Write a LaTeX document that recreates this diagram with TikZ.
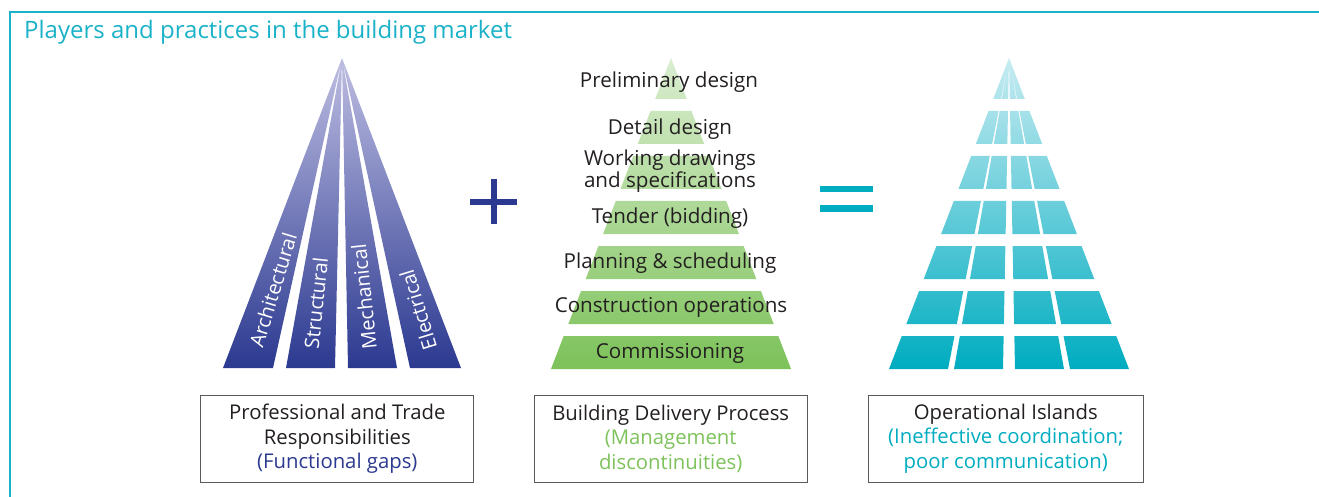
\documentclass[tikz,border=0pt]{standalone}
\usepackage{fontspec}
\setmainfont{Open Sans}
\definecolor{navy}{RGB}{43,57,144}
\definecolor{lavender}{RGB}{190,190,226}
\definecolor{leaf}{RGB}{125,194,90}
\definecolor{paleleaf}{RGB}{218,237,208}
\definecolor{isle}{RGB}{0,172,192}
\definecolor{paleisle}{RGB}{200,236,242}
\definecolor{rim}{RGB}{26,178,200}
\definecolor{ink}{RGB}{35,31,32}
\tikzset{
  legend/.style={draw=gray!70!black,line width=1.3pt,minimum width=273pt,minimum height=87pt,
    align=center,inner sep=0pt,text=ink,font=\fontsize{20.3}{24.7}\selectfont},
  stage/.style={text=ink,font=\fontsize{20.6}{21.7}\selectfont,align=center,inner sep=0pt},
  trade/.style={text=white,font=\fontsize{20}{20}\selectfont,inner sep=0pt}
}
\begin{document}
\begin{tikzpicture}[x=1pt,y=-1pt]
  \useasboundingbox (0,0) rectangle (1319,497);
  % frame and title
  \draw[rim,line width=2.2pt] (10,497)--(10,12)--(1319,12);
  \node[anchor=base west,text=rim,font=\fontsize{24}{26}\selectfont,inner sep=0pt] (title) at (24,39) {Players and practices in the building market};

  % professional fan
  \shade[top color=lavender,bottom color=navy]
    \foreach \l/\r in {-119/-69,-56/-7,6/55,68/119} {(342,58)--({342+\l},368)--({342+\r},368)--cycle};
  \node[trade,rotate=73] (arch) at (273,290) {Architectural};
  \node[trade,rotate=84] (struct) at (316,303) {Structural};
  \node[trade,rotate=96] (mech) at (364,297) {Mechanical};
  \node[trade,rotate=107] (elec) at (418,310) {Electrical};

  % plus
  \draw[navy,line width=6pt] (470,202)--(517,202) (493.5,179)--(493.5,224);

  % delivery pyramid
  \shade[top color=paleleaf,bottom color=leaf]
    \foreach \t/\b in {58/99,111/144,156/189,201/234,246/279,291/324,336/369}
      {({671-.386*(\t-58)},\t)--({671+.386*(\t-58)},\t)--({671+.386*(\b-58)},\b)--({671-.386*(\b-58)},\b)--cycle};
  \node[stage] (prelim) at (669,82) {Preliminary design};
  \node[stage] (detail) at (670,129) {Detail design};
  \node[stage] (working) at (670,171) {Working drawings\\ and specifications};
  \node[stage] (tender) at (670,218) {Tender (bidding)};
  \node[stage] (planning) at (670,263) {Planning \& scheduling};
  \node[stage] (construct) at (671,307) {Construction operations};
  \node[stage] (commission) at (670,353) {Commissioning};

  % equals
  \draw[isle,line width=6.6pt] (820,189)--(873,189) (820,208.7)--(873,208.7);

  % operational islands
  \shade[top color=paleisle,bottom color=isle]
    \foreach \t/\b in {58/99,111/144,156/189,201/234,246/279,291/324,336/369}
      {\foreach \l/\r in {-120/-61,-55/-6,6/55,61/120}
        {({1009+\l/311*(\t-58)},\t)--({1009+\r/311*(\t-58)},\t)--({1009+\r/311*(\b-58)},\b)--({1009+\l/311*(\b-58)},\b)--cycle}};

  % captions
  \node[legend] (duties) at (337.3,438.7) {Professional and Trade\\ Responsibilities\\ \textcolor{navy}{(Functional gaps)}};
  \node[legend] (delivery) at (670.7,438.7) {Building Delivery Process\\ \textcolor{leaf}{(Management}\\ \textcolor{leaf}{discontinuities)}};
  \node[legend,minimum width=275pt] (islands) at (1005.8,438.7) {Operational Islands\\ \textcolor{isle}{(Ineffective coordination;}\\ \textcolor{isle}{poor communication)}};
\end{tikzpicture}
\end{document}
